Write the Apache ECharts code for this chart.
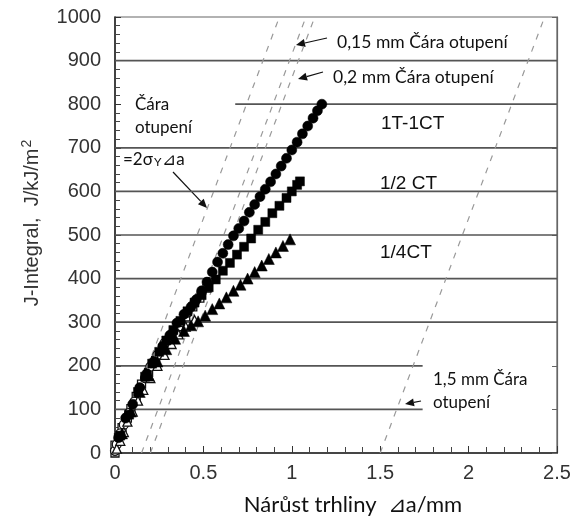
<!DOCTYPE html>
<html><head><meta charset="utf-8">
<script src="https://cdn.jsdelivr.net/npm/echarts@6/dist/echarts.min.js"></script>
<style>html,body{margin:0;padding:0;background:#fff}#c{width:575px;height:521px}</style>
</head><body><div id="c"></div>
<script>
// ---- data ----
const xTicks = [0, 0.5, 1, 1.5, 2, 2.5];
const yTicks = [0, 100, 200, 300, 400, 500, 600, 700, 800, 900, 1000];

// specimen 1T-1CT (filled circles)
const ct1T = [[0.02,35],[0.06,80],[0.10,112],[0.14,150],[0.18,182],[0.22,210],[0.27,245],[0.31,270],[0.35,298],[0.39,318],[0.43,335],[0.46,352],[0.49,372],[0.52,392],[0.55,415],[0.58,438],[0.61,458],[0.64,478],[0.67,498],[0.70,515],[0.73,532],[0.76,552],[0.79,570],[0.82,588],[0.85,605],[0.88,622],[0.91,640],[0.94,658],[0.97,676],[1.00,695],[1.03,713],[1.06,732],[1.09,750],[1.12,768],[1.145,785],[1.17,800]];
// specimen 1/2 CT (filled squares)
const ctHalf = [[0.03,40],[0.08,88],[0.13,140],[0.17,175],[0.21,205],[0.25,232],[0.29,258],[0.33,282],[0.37,303],[0.41,325],[0.45,345],[0.49,362],[0.53,380],[0.57,398],[0.61,418],[0.65,436],[0.69,455],[0.73,473],[0.77,492],[0.81,512],[0.85,530],[0.89,550],[0.93,567],[0.97,585],[1.00,600],[1.03,615],[1.046,623]];
// specimen 1/4CT (filled triangles)
const ctQuarter = [[0.04,45],[0.09,95],[0.14,140],[0.19,178],[0.24,210],[0.29,238],[0.34,262],[0.39,280],[0.43,293],[0.47,302],[0.51,315],[0.55,330],[0.59,343],[0.63,357],[0.67,372],[0.71,386],[0.75,400],[0.79,415],[0.83,430],[0.87,445],[0.91,460],[0.95,475],[0.99,490]];
// other specimens (open symbols, low range)
const openCircles = [[0,5],[0.01,20],[0.03,45],[0.05,65],[0.08,92],[0.11,118],[0.14,148],[0.17,172],[0.20,198],[0.24,225],[0.28,252],[0.33,278],[0.37,300],[0.41,322],[0.45,345],[0.49,368],[0.53,392]];
const openSquares = [[0,0],[0,18],[0.02,35],[0.04,58],[0.07,80],[0.09,102],[0.12,130],[0.15,158],[0.19,185],[0.23,212],[0.27,240],[0.31,262],[0.36,290],[0.40,312],[0.44,335],[0.48,355],[0.52,378]];
const openTriangles = [[0.01,10],[0.03,28],[0.05,48],[0.07,72],[0.10,95],[0.13,120],[0.16,145],[0.20,172],[0.24,200],[0.28,225],[0.32,250],[0.36,272],[0.40,290],[0.45,305]];

// blunting lines J = 2σY(Δa - offset)
const bluntOrigin = [[0,0],[0.93,1000]];
const blunt015 = [[0.15,0],[1.08,1000]];
const blunt020 = [[0.20,0],[1.13,1000]];
const blunt150 = [[1.50,0],[2.43,1000]];

// horizontal reference lines
const gridLevels = [100, 200, 300, 400, 500, 600, 700, 800, 900];
const gridFrom   = [0, 0, 0, 0, 0, 0, 0, 0.68, 0];
const gridTo     = [1.74, 1.74, 2.5, 2.5, 2.5, 2.5, 2.5, 2.5, 2.5];

// ---- chart ----
const chart = echarts.init(document.getElementById('c'), null, {renderer: 'canvas'});
const AX = 'Liberation Sans, Arial, sans-serif';
const CAL = 'Lato, Open Sans, sans-serif';

const series = [];
gridLevels.forEach((lv, i) => {
  series.push({type:'line', data:[[gridFrom[i], lv],[gridTo[i], lv]], symbol:'none', silent:true,
    lineStyle:{color:'#555', width:1.7}, z:1, animation:false});
});
[bluntOrigin, blunt015, blunt020, blunt150].forEach(d => {
  series.push({type:'line', data:d, symbol:'none', silent:true,
    lineStyle:{color:'#999', width:1.2, type:[6,7]}, z:2, animation:false});
});
const sc = (data, sym, size, filled) => ({type:'scatter', data, symbol:sym, symbolSize:size, animation:false, z:5,
  itemStyle: filled ? {color:'#000', borderColor:'#000', borderWidth:0.5, opacity:1} : {color:'#fff', borderColor:'#111', borderWidth:1.3, opacity:1}});
series.push(sc(openSquares, 'rect', 8, false));
series.push(sc(openCircles, 'circle', 9, false));
series.push(sc(openTriangles, 'triangle', 9, false));
series.push(sc(ctQuarter, 'triangle', 11, true));
series.push(sc(ctHalf, 'rect', 9, true));
series.push(sc(ct1T, 'circle', 10, true));

function arrow(x1, y1, x2, y2) {
  const dx = x2 - x1, dy = y2 - y1, L = Math.hypot(dx, dy), ux = dx / L, uy = dy / L;
  const hl = 9, hw = 4;
  const bx = x2 - ux * hl, by = y2 - uy * hl;
  return [
    {type:'line', shape:{x1, y1, x2: bx, y2: by}, style:{stroke:'#111', lineWidth:1.2}},
    {type:'polygon', shape:{points:[[x2,y2],[bx - uy*hw, by + ux*hw],[bx + uy*hw, by - ux*hw]]}, style:{fill:'#111'}}
  ];
}
const txt = (x, y, text, font, size, extra) => Object.assign({type:'text', x, y,
  style:{text, fontFamily:font, fontSize:size, fill:'#111', textVerticalAlign:'middle', textAlign:'left'}}, extra || {});

const graphics = [
  txt(337, 42, '0,15 mm Čára otupení', CAL, 17.5),
  txt(333, 77, '0,2 mm Čára otupení', CAL, 17.5),
  txt(135, 105, 'Čára', CAL, 17),
  txt(135, 128, 'otupení', CAL, 17),
  {type:'text', x:123, y:160, style:{text:'{a|=2σ}{b|Y}{a|⊿a}', fontFamily:CAL, textVerticalAlign:'middle',
    rich:{a:{fontSize:17, fontFamily:CAL, fill:'#111'}, b:{fontSize:12, fontFamily:CAL, fill:'#111', padding:[4,1,0,1]}}}},
  txt(381, 124, '1T-1CT', AX, 19),
  txt(380, 184, '1/2 CT', AX, 19),
  txt(380, 253, '1/4CT', AX, 19),
  txt(433, 380, '1,5 mm Čára', CAL, 17),
  txt(433, 403, 'otupení', CAL, 17),
  {type:'text', x:353, y:505, style:{text:'Nárůst trhliny  ⊿a/mm', fontFamily:CAL, fontSize:22, fill:'#111', textAlign:'center', textVerticalAlign:'middle'}},
  {type:'text', x:32, y:223, rotation:Math.PI/2,
    style:{text:'{a|J-Integral,  J/kJ/m}{s|2}', textAlign:'center', textVerticalAlign:'middle',
      rich:{a:{fontSize:20, fontFamily:AX, fill:'#333', lineHeight:26}, s:{fontSize:14, fontFamily:AX, fill:'#333', padding:[0,0,10,1]}}}},
  ...arrow(173, 172, 207, 208),
  ...arrow(327, 38, 296, 45),
  ...arrow(323, 72, 298, 79),
  ...arrow(421, 401, 405, 404)
];

chart.setOption({
  animation:false,
  backgroundColor:'#fff',
  grid:{left:115, right:18, top:17, bottom:68, show:true, borderColor:'#666', borderWidth:1.2},
  xAxis:{type:'value', min:xTicks[0], max:xTicks[xTicks.length-1], interval:0.5,
    axisLine:{lineStyle:{color:'#222', width:1.5}},
    axisTick:{inside:true, length:7, lineStyle:{color:'#333'}},
    minorTick:{show:true, splitNumber:5, length:6, lineStyle:{color:'#444'}},
    splitLine:{show:false},
    axisLabel:{fontFamily:AX, fontSize:20, color:'#333', margin:10, formatter:v => String(v)}},
  yAxis:[{type:'value', min:yTicks[0], max:yTicks[yTicks.length-1], interval:100,
    axisLine:{lineStyle:{color:'#222', width:1.5}},
    axisTick:{inside:true, length:6, lineStyle:{color:'#333'}},
    minorTick:{show:true, splitNumber:5, length:5, lineStyle:{color:'#444'}},
    splitLine:{show:false},
    axisLabel:{fontFamily:AX, fontSize:20, color:'#333', margin:14, formatter:v => String(v)}},
    {type:'value', position:'right', min:0, max:1000, interval:100,
    axisLine:{show:true, lineStyle:{color:'#666', width:1.2}},
    axisTick:{inside:true, length:5, lineStyle:{color:'#666'}},
    axisLabel:{show:false}, splitLine:{show:false}}],
  series,
  graphic:graphics
});
</script></body></html>
